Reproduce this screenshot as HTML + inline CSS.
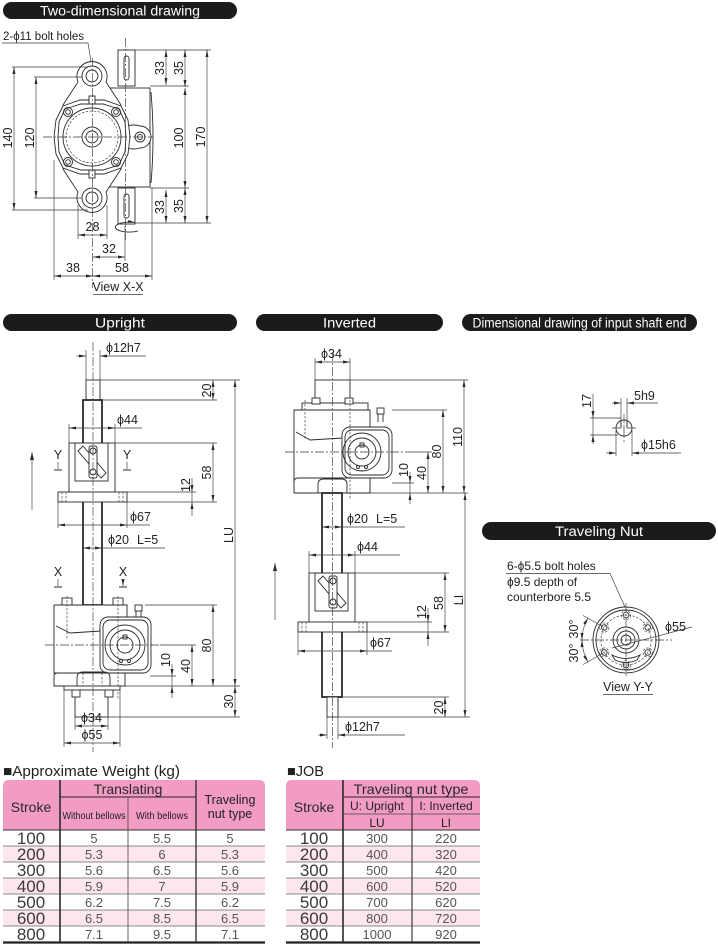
<!DOCTYPE html>
<html><head><meta charset="utf-8">
<style>
html,body{margin:0;padding:0;background:#fff;}
svg{display:block;}
text{font-family:"Liberation Sans",sans-serif;fill:#222;}
.t{font-size:12.5px;}
.o{fill:none;stroke:#2a2a2a;stroke-width:0.9;}
.ow{fill:#fff;stroke:#2a2a2a;stroke-width:0.9;}
.b{fill:#fff;stroke:#1e1e1e;stroke-width:1.7;}
.d{fill:none;stroke:#3a3a3a;stroke-width:0.65;}
.c{fill:none;stroke:#3a3a3a;stroke-width:0.65;stroke-dasharray:9 2 2 2;}
.h{fill:none;stroke:#3a3a3a;stroke-width:0.65;stroke-dasharray:2.5 1.5;}
.hd{fill:#fff;font-size:13.5px;}
.tv{font-size:13px;fill:#555;}
.ts{font-size:17px;fill:#3a3a3a;}
.th{font-size:14px;fill:#2a2a2a;}
</style></head>
<body>
<svg width="718" height="945" viewBox="0 0 718 945" xmlns="http://www.w3.org/2000/svg">
<defs>
<marker id="a" viewBox="0 0 7 3" refX="7" refY="1.5" markerWidth="7" markerHeight="3" orient="auto-start-reverse" markerUnits="userSpaceOnUse"><path d="M0,0L7,1.5L0,3z" fill="#2a2a2a"/></marker>
<marker id="A" viewBox="0 0 8 4" refX="8" refY="2" markerWidth="8" markerHeight="4" orient="auto-start-reverse" markerUnits="userSpaceOnUse"><path d="M0,0L8,2L0,4z" fill="#2a2a2a"/></marker>
</defs>

<!-- ================= TWO-DIMENSIONAL DRAWING ================= -->
<rect x="3" y="2" width="234" height="17" rx="8.5" fill="#1b1b1b"/>
<text class="hd" x="120" y="15.5" text-anchor="middle" textLength="160" lengthAdjust="spacingAndGlyphs">Two-dimensional drawing</text>

<text x="3" y="40" font-size="11.5">2-ϕ11 bolt holes</text>
<path class="d" d="M2,43H88L92,68"/>

<rect class="ow" x="105" y="88" width="45" height="99"/>
<path class="o" d="M151,92Q155,137 151,183"/>
<rect class="ow" x="118" y="50" width="17" height="36"/>
<rect class="o" x="124" y="56" width="5" height="24" rx="2.5"/>
<rect class="ow" x="118" y="188" width="17" height="36"/>
<rect class="o" x="124" y="194" width="5" height="24" rx="2.5"/>
<path class="ow" d="M126,126Q135,124 140,126A11,11 0 0 1 140,148Q135,150 126,148Z"/>
<circle class="o" cx="140" cy="137" r="5"/>
<circle class="o" cx="140" cy="137" r="2.5"/>
<path class="ow" d="M63,105L78,82A15,15 0 1 1 106,82L121,105L121,169L106,192A15,15 0 1 1 78,192L63,169Z"/>
<circle class="o" cx="92" cy="76" r="10"/>
<circle class="o" cx="92" cy="76" r="6"/>
<circle class="o" cx="92" cy="198" r="10"/>
<circle class="o" cx="92" cy="198" r="6"/>
<path class="ow" d="M63,106L80,100L104,100L121,106L128,120L130,137L128,154L121,168L104,174L80,174L63,168L56,154L54,137L56,120Z"/>
<path class="o" d="M65,109L81,104L103,104L119,109L125,122L126,137L125,152L119,165L103,170L81,170L65,165L59,152L58,137L59,122Z"/>
<circle class="o" cx="92" cy="137" r="29"/>
<circle class="h" cx="92" cy="137" r="26"/>
<g class="o">
<circle cx="68" cy="112" r="4.5"/><circle cx="116" cy="112" r="4.5"/><circle cx="68" cy="162" r="4.5"/><circle cx="116" cy="162" r="4.5"/>
<circle cx="68" cy="112" r="2.3"/><circle cx="116" cy="112" r="2.3"/><circle cx="68" cy="162" r="2.3"/><circle cx="116" cy="162" r="2.3"/>
<circle cx="92" cy="137" r="10"/><circle cx="92" cy="137" r="6"/>
</g>
<rect class="ow" x="89" y="96" width="6" height="8"/>
<rect class="ow" x="89" y="170" width="6" height="8"/>
<path class="c" d="M43,137H153"/>
<path class="c" d="M92.5,58V288"/>
<path class="c" d="M125.5,38V240"/>
<path class="o" d="M138,231A14,5 0 1 1 135,222.5" marker-end="url(#a)"/>

<path class="d" d="M135,50H211M150,86H189M150,188H189M135,223H211"/>
<g class="d" marker-start="url(#a)" marker-end="url(#a)">
<path d="M166,50V85"/><path d="M185,50V87"/><path d="M185,88V188"/><path d="M207,50V223"/><path d="M166,190V223"/><path d="M185,188V223"/>
<path d="M14,67V210"/><path d="M36,77V198"/>
<path d="M78,235H107"/><path d="M93,257H125"/><path d="M54,276H93"/><path d="M93,276H152"/>
</g>
<path class="d" d="M12,67H88M12,210H88M34,77H82M34,198H82M78,205V239M107,205V239M54,160V280M152,188V280M125,226V261"/>
<g class="t" text-anchor="middle">
<text transform="translate(164,68) rotate(-90)">33</text>
<text transform="translate(183,68) rotate(-90)">35</text>
<text transform="translate(183,138) rotate(-90)">100</text>
<text transform="translate(205,137) rotate(-90)">170</text>
<text transform="translate(164,207) rotate(-90)">33</text>
<text transform="translate(183,206) rotate(-90)">35</text>
<text transform="translate(12,138) rotate(-90)">140</text>
<text transform="translate(34,138) rotate(-90)">120</text>
<text x="92.5" y="231">28</text>
<text x="109" y="253">32</text>
<text x="73" y="272">38</text>
<text x="122" y="272">58</text>
<text x="118" y="291">View X-X</text>
</g>
<path class="d" d="M93,294.5H143"/>

<!-- ================= UPRIGHT ================= -->
<rect x="3" y="314" width="234" height="17" rx="8.5" fill="#1b1b1b"/>
<text class="hd" x="120" y="327.5" text-anchor="middle" textLength="50" lengthAdjust="spacingAndGlyphs">Upright</text>

<text class="t" x="106" y="352">ϕ12h7</text>
<path class="d" d="M76,356H86" marker-end="url(#a)"/>
<path class="d" d="M146,356H100" marker-end="url(#a)"/>
<path class="d" d="M86,350V380M100,350V380"/>
<rect class="ow" x="86" y="380" width="14" height="20"/>
<path class="d" d="M100,380H240M102,400H217"/>
<rect class="b" x="83" y="400" width="19" height="205"/>
<path class="d" d="M69,424V443M115,424V443"/>
<path class="d" d="M69,428H115" marker-start="url(#a)" marker-end="url(#a)"/>
<path class="d" d="M115,428H142"/>
<text class="t" x="117" y="424">ϕ44</text>

<g id="nut">
<rect class="ow" x="69" y="443" width="46" height="49"/>
<rect class="o" x="75" y="443" width="33" height="38"/>
<path class="o" d="M78,451L83,446L106,473L101,478Z"/>
<rect class="ow" x="89" y="446" width="8" height="32" rx="2"/>
<circle class="o" cx="93" cy="451" r="3"/>
<circle class="o" cx="93" cy="472" r="3"/>
<rect class="ow" x="58" y="492" width="69" height="10"/>
<path class="h" d="M62,492V502M66,492V502M119,492V502M123,492V502"/>
</g>

<path class="d" d="M115,443H217M127,502H217M127,492H196"/>
<path class="d" d="M213,443V502" marker-start="url(#a)" marker-end="url(#a)"/>
<text class="t" text-anchor="middle" transform="translate(211,472.5) rotate(-90)">58</text>
<path class="d" d="M192,478V492" marker-end="url(#a)"/>
<path class="d" d="M192,516V502" marker-end="url(#a)"/>
<path class="d" d="M192,492V502"/>
<text class="t" text-anchor="middle" transform="translate(190,485) rotate(-90)">12</text>
<path class="d" d="M58,502V528M127,502V528"/>
<path class="d" d="M58,525H127" marker-start="url(#a)" marker-end="url(#a)"/>
<path class="d" d="M127,525H150"/>
<text class="t" x="130" y="521">ϕ67</text>
<path class="d" d="M83,548H102" marker-start="url(#a)" marker-end="url(#a)"/>
<path class="d" d="M102,548H165"/>
<text class="t" x="108" y="544">ϕ20</text>
<text class="t" x="137" y="544">L=5</text>

<g class="t" text-anchor="middle">
<text x="58" y="459">Y</text><text x="127" y="459">Y</text>
<text x="58" y="576">X</text><text x="123" y="576">X</text>
</g>
<path class="d" d="M58,462V469M127,462V469M58,579V586M123,579V586" marker-end="url(#a)"/>
<path class="o" d="M54,470H62M123,470H131M54,587H62M119,587H127" stroke-width="1.3"/>
<path class="d" d="M32,510V452" marker-end="url(#A)" stroke-width="0.9"/>

<rect class="ow" x="62" y="598" width="10" height="7"/>
<rect class="ow" x="113" y="598" width="10" height="7"/>
<path class="ow" d="M54,605H127V673H54Z"/>
<path class="o" d="M56,626L70,633L101,631"/>
<rect class="ow" x="100" y="617" width="51" height="56" rx="8"/>
<rect class="o" x="103" y="620" width="45" height="50" rx="7"/>
<circle class="o" cx="125" cy="645" r="20"/>
<circle class="o" cx="125" cy="645" r="15"/>
<circle class="o" cx="125" cy="645" r="8"/>
<rect class="o" x="123" y="635" width="4" height="4"/>
<circle class="o" cx="121" cy="661" r="1.5"/><circle class="o" cx="129" cy="661" r="1.5"/>
<path class="ow" d="M54,686V676Q54,673 58,673H125V686Z"/>
<path class="o" d="M77,686V678Q77,672 83,672H104Q110,672 110,678V686"/>
<rect class="ow" x="135" y="605" width="7" height="6"/>
<path class="o" d="M136,611V617M141,611V617"/>
<path class="h" d="M67,596V640M118,596V700M83,673V686M102,673V686"/>
<rect class="ow" x="64" y="686" width="56" height="4"/>
<rect class="ow" x="75" y="690" width="33" height="27"/>
<rect class="ow" x="72" y="690" width="8" height="7"/>
<rect class="ow" x="105" y="690" width="8" height="7"/>
<path class="c" d="M45,645H162"/>
<path class="c" d="M93,342V752"/>

<path class="d" d="M145,605H217M160,645H196M150,676H176M125,686H240M108,717H240"/>
<path class="d" d="M213,605V686" marker-start="url(#a)" marker-end="url(#a)"/>
<path class="d" d="M192,645V686" marker-start="url(#a)" marker-end="url(#a)"/>
<path class="d" d="M172,664V676" marker-end="url(#a)"/>
<path class="d" d="M172,698V686" marker-end="url(#a)"/>
<path class="d" d="M172,676V686"/>
<path class="d" d="M235,686V717" marker-start="url(#a)" marker-end="url(#a)"/>
<path class="d" d="M235,380V686" marker-start="url(#a)" marker-end="url(#a)"/>
<path class="d" d="M213,380V400" marker-start="url(#a)" marker-end="url(#a)"/>
<g class="t" text-anchor="middle">
<text transform="translate(211,390.5) rotate(-90)">20</text>
<text transform="translate(211,645.5) rotate(-90)">80</text>
<text transform="translate(190,666) rotate(-90)">40</text>
<text transform="translate(170,660) rotate(-90)">10</text>
<text transform="translate(233,701.5) rotate(-90)">30</text>
<text transform="translate(233,535) rotate(-90)">LU</text>
<text x="91.5" y="722">ϕ34</text>
<text x="92" y="739">ϕ55</text>
</g>
<path class="d" d="M75,717V730M108,717V730M64,690V747M120,690V747"/>
<path class="d" d="M75,726H108" marker-start="url(#a)" marker-end="url(#a)"/>
<path class="d" d="M64,743H120" marker-start="url(#a)" marker-end="url(#a)"/>

<!-- ================= INVERTED ================= -->
<rect x="256" y="314" width="187" height="17" rx="8.5" fill="#1b1b1b"/>
<text class="hd" x="349.5" y="327.5" text-anchor="middle" textLength="53" lengthAdjust="spacingAndGlyphs">Inverted</text>

<text class="t" x="321" y="358">ϕ34</text>
<path class="d" d="M315,358V380M350,358V380"/>
<path class="d" d="M315,362H350" marker-start="url(#a)" marker-end="url(#a)"/>
<rect class="ow" x="315" y="380" width="35" height="23"/>
<path class="d" d="M350,380H468"/>
<rect class="ow" x="302" y="403" width="66" height="7"/>
<rect class="ow" x="312" y="398" width="8" height="6"/>
<rect class="ow" x="345" y="398" width="8" height="6"/>
<path class="ow" d="M294,410H370V493H294Z"/>
<path class="o" d="M296,432L310,440L343,438"/>
<rect class="ow" x="342" y="427" width="50" height="51" rx="8"/>
<rect class="o" x="345" y="430" width="44" height="45" rx="7"/>
<circle class="o" cx="362" cy="452" r="19"/>
<circle class="o" cx="362" cy="452" r="14"/>
<circle class="o" cx="362" cy="452" r="7"/>
<rect class="o" x="360" y="443" width="4" height="4"/>
<circle class="o" cx="358" cy="467" r="1.5"/><circle class="o" cx="366" cy="467" r="1.5"/>
<path class="ow" d="M294,493V482Q294,478 298,478H370V493Z"/>
<path class="o" d="M318,493V484Q318,479 324,479H341Q347,479 347,484V493"/>
<rect class="ow" x="377" y="408" width="7" height="6"/>
<path class="o" d="M378,414V422M383,414V422"/>
<path class="h" d="M305,400V440M350,400V500"/>
<path class="c" d="M285,452H405"/>

<path class="d" d="M392,410H447M405,452H432M392,483H414M370,493H468"/>
<path class="d" d="M443,410V493" marker-start="url(#a)" marker-end="url(#a)"/>
<path class="d" d="M464,380V493" marker-start="url(#a)" marker-end="url(#a)"/>
<path class="d" d="M428,452V493" marker-start="url(#a)" marker-end="url(#a)"/>
<path class="d" d="M410,472V483" marker-end="url(#a)"/>
<path class="d" d="M410,504V493" marker-end="url(#a)"/>
<path class="d" d="M410,483V493"/>

<rect class="b" x="322" y="493" width="20" height="204"/>
<path class="d" d="M322,527H342" marker-start="url(#a)" marker-end="url(#a)"/>
<path class="d" d="M342,527H405"/>
<text class="t" x="347" y="523">ϕ20</text>
<text class="t" x="376" y="523">L=5</text>
<path class="d" d="M309,551V573M355,551V573"/>
<path class="d" d="M309,555H355" marker-start="url(#a)" marker-end="url(#a)"/>
<path class="d" d="M355,555H400"/>
<text class="t" x="357" y="551">ϕ44</text>
<use href="#nut" transform="translate(240,130)"/>
<path class="d" d="M355,573H449M367,632H449M367,622H432"/>
<path class="d" d="M445,573V632" marker-start="url(#a)" marker-end="url(#a)"/>
<path class="d" d="M428,608V622" marker-end="url(#a)"/>
<path class="d" d="M428,646V632" marker-end="url(#a)"/>
<path class="d" d="M428,622V632"/>
<path class="d" d="M298,632V655M367,632V655"/>
<path class="d" d="M298,651H367" marker-start="url(#a)" marker-end="url(#a)"/>
<path class="d" d="M367,651H392"/>
<text class="t" x="370" y="647">ϕ67</text>
<path class="d" d="M275,620V563" marker-end="url(#A)" stroke-width="0.9"/>
<rect class="ow" x="327" y="697" width="11" height="20"/>
<path class="d" d="M342,697H449M338,717H470"/>
<path class="d" d="M445,697V717" marker-start="url(#a)" marker-end="url(#a)"/>
<path class="d" d="M465,493V717" marker-start="url(#a)" marker-end="url(#a)"/>
<path class="d" d="M327,717V739M338,717V739"/>
<path class="d" d="M318,735H327" marker-end="url(#a)"/>
<path class="d" d="M405,735H338" marker-end="url(#a)"/>
<text class="t" x="345" y="731">ϕ12h7</text>
<path class="c" d="M332.5,352V748"/>
<g class="t" text-anchor="middle">
<text transform="translate(441,451.5) rotate(-90)">80</text>
<text transform="translate(462,437) rotate(-90)">110</text>
<text transform="translate(426,473) rotate(-90)">40</text>
<text transform="translate(408,470) rotate(-90)">10</text>
<text transform="translate(443,603) rotate(-90)">58</text>
<text transform="translate(426,612) rotate(-90)">12</text>
<text transform="translate(443,707.5) rotate(-90)">20</text>
<text transform="translate(463,600) rotate(-90)">LI</text>
</g>

<!-- ================= INPUT SHAFT END ================= -->
<rect x="462" y="314" width="235" height="17" rx="8.5" fill="#1b1b1b"/>
<text class="hd" x="579.5" y="327.5" text-anchor="middle" textLength="214" lengthAdjust="spacingAndGlyphs">Dimensional drawing of input shaft end</text>
<circle class="o" cx="624" cy="428" r="8"/>
<path class="o" d="M621,421V428M627,421V428"/>
<path class="d" d="M621,398V421M627,398V421"/>
<path class="c" d="M612,428H637M624,414V442"/>
<path class="d" d="M593,394V418" marker-end="url(#a)"/>
<path class="d" d="M593,444V435" marker-end="url(#a)"/>
<path class="d" d="M593,418V435M590,418H621M590,435H618"/>
<text class="t" text-anchor="middle" transform="translate(591,401) rotate(-90)">17</text>
<path class="d" d="M612,403H621" marker-end="url(#a)"/>
<path class="d" d="M658,403H627" marker-end="url(#a)"/>
<text class="t" x="634" y="400">5h9</text>
<path class="d" d="M616,430V456M632,430V456"/>
<path class="d" d="M606,453H616" marker-end="url(#a)"/>
<path class="d" d="M681,453H632" marker-end="url(#a)"/>
<text class="t" x="641" y="449">ϕ15h6</text>

<!-- ================= TRAVELING NUT ================= -->
<rect x="482" y="522" width="234" height="18" rx="9" fill="#1b1b1b"/>
<text class="hd" x="599" y="536" text-anchor="middle" textLength="88" lengthAdjust="spacingAndGlyphs">Traveling Nut</text>
<text x="507" y="570" font-size="12">6-ϕ5.5 bolt holes</text>
<text x="507" y="586" font-size="12">ϕ9.5 depth of</text>
<text x="507" y="601" font-size="12">counterbore 5.5</text>
<path class="d" d="M506,573.5H610L625,607"/>
<circle class="ow" cx="626" cy="640" r="33"/>
<circle class="o" cx="626" cy="640" r="30"/>
<circle class="h" cx="626" cy="640" r="25"/>
<circle class="o" cx="626" cy="640" r="13"/>
<circle class="o" cx="626" cy="640" r="9"/>
<circle class="o" cx="626" cy="640" r="5"/>
<path class="o" d="M612,655Q626,662 640,655L637,660Q626,665 615,660Z"/>
<g class="o">
<circle cx="626" cy="615" r="2.8"/><circle cx="626" cy="665" r="2.8"/>
<circle cx="604.3" cy="627.5" r="2.8"/><circle cx="647.7" cy="627.5" r="2.8"/>
<circle cx="604.3" cy="652.5" r="2.8"/><circle cx="647.7" cy="652.5" r="2.8"/>
</g>
<g class="h">
<circle cx="626" cy="615" r="4.6"/><circle cx="626" cy="665" r="4.6"/>
<circle cx="604.3" cy="627.5" r="4.6"/><circle cx="647.7" cy="627.5" r="4.6"/>
<circle cx="604.3" cy="652.5" r="4.6"/><circle cx="647.7" cy="652.5" r="4.6"/>
</g>
<path class="c" d="M580,640H672M626,603V677"/>
<path class="d" d="M604,627.5L583,615.5M604,652.5L583,664.5"/>
<path class="d" d="M588,618A44,44 0 0 0 582,640" marker-start="url(#a)" marker-end="url(#a)"/>
<path class="d" d="M582,640A44,44 0 0 0 588,662" marker-start="url(#a)" marker-end="url(#a)"/>
<text class="t" text-anchor="middle" transform="translate(578,629) rotate(-90)" font-size="11.5">30°</text>
<text class="t" text-anchor="middle" transform="translate(578,653) rotate(-90)" font-size="11.5">30°</text>
<path class="d" d="M612,648L692,627"/>
<text class="t" x="665" y="631">ϕ55</text>
<text class="t" x="628" y="691" text-anchor="middle">View Y-Y</text>
<path class="d" d="M603,694.5H653"/>

<!-- ================= TABLE 1 ================= -->
<text x="3" y="776" font-size="14.5" fill="#222" textLength="177" lengthAdjust="spacingAndGlyphs">■Approximate Weight (kg)</text>
<path d="M3,830V786Q3,780 9,780H259Q265,780 265,786V830Z" fill="#f29bc3"/>
<rect x="3" y="846" width="262" height="16" fill="#fde6ef"/>
<rect x="3" y="878" width="262" height="16" fill="#fde6ef"/>
<rect x="3" y="910" width="262" height="16" fill="#fde6ef"/>
<path d="M3,846H265M3,862H265M3,878H265M3,894H265M3,910H265M3,926H265" stroke="#666" stroke-width="0.7"/>
<path d="M3,830H265" stroke="#333" stroke-width="1"/>
<path d="M3,942.5H265" stroke="#222" stroke-width="2.2"/>
<path d="M60,780V942" stroke="#2a2a2a" stroke-width="1.6"/>
<path d="M128,797V942" stroke="#555" stroke-width="0.9"/>
<path d="M196,780V942" stroke="#2a2a2a" stroke-width="1.3"/>
<path d="M60,797H196" stroke="#2a2a2a" stroke-width="1"/>
<g text-anchor="middle">
<text class="th" x="31" y="812">Stroke</text>
<text class="th" x="128" y="794">Translating</text>
<text x="94" y="819" font-size="10.5" fill="#2a2a2a" textLength="63" lengthAdjust="spacingAndGlyphs">Without bellows</text>
<text x="162" y="819" font-size="10.5" fill="#2a2a2a" textLength="52" lengthAdjust="spacingAndGlyphs">With bellows</text>
<text x="230" y="804" font-size="12.5" fill="#2a2a2a">Traveling</text>
<text x="230" y="818" font-size="12.5" fill="#2a2a2a">nut type</text>
</g>
<g text-anchor="middle">
<text class="ts" x="31" y="844">100</text><text class="tv" x="94" y="843">5</text><text class="tv" x="162" y="843">5.5</text><text class="tv" x="230" y="843">5</text>
<text class="ts" x="31" y="860">200</text><text class="tv" x="94" y="859">5.3</text><text class="tv" x="162" y="859">6</text><text class="tv" x="230" y="859">5.3</text>
<text class="ts" x="31" y="876">300</text><text class="tv" x="94" y="875">5.6</text><text class="tv" x="162" y="875">6.5</text><text class="tv" x="230" y="875">5.6</text>
<text class="ts" x="31" y="892">400</text><text class="tv" x="94" y="891">5.9</text><text class="tv" x="162" y="891">7</text><text class="tv" x="230" y="891">5.9</text>
<text class="ts" x="31" y="908">500</text><text class="tv" x="94" y="907">6.2</text><text class="tv" x="162" y="907">7.5</text><text class="tv" x="230" y="907">6.2</text>
<text class="ts" x="31" y="924">600</text><text class="tv" x="94" y="923">6.5</text><text class="tv" x="162" y="923">8.5</text><text class="tv" x="230" y="923">6.5</text>
<text class="ts" x="31" y="940">800</text><text class="tv" x="94" y="939">7.1</text><text class="tv" x="162" y="939">9.5</text><text class="tv" x="230" y="939">7.1</text>
</g>

<!-- ================= TABLE 2 ================= -->
<text x="287" y="776" font-size="14.5" fill="#222">■JOB</text>
<path d="M286,830V786Q286,780 292,780H474Q480,780 480,786V830Z" fill="#f29bc3"/>
<rect x="286" y="846" width="194" height="16" fill="#fde6ef"/>
<rect x="286" y="878" width="194" height="16" fill="#fde6ef"/>
<rect x="286" y="910" width="194" height="16" fill="#fde6ef"/>
<path d="M286,846H480M286,862H480M286,878H480M286,894H480M286,910H480M286,926H480" stroke="#666" stroke-width="0.7"/>
<path d="M286,830H480" stroke="#333" stroke-width="1"/>
<path d="M286,942.5H480" stroke="#222" stroke-width="2.2"/>
<path d="M343,780V942" stroke="#2a2a2a" stroke-width="1.6"/>
<path d="M412,797V942" stroke="#2a2a2a" stroke-width="1.1"/>
<path d="M343,797H480" stroke="#2a2a2a" stroke-width="1"/>
<path d="M343,814H480" stroke="#444" stroke-width="0.7"/>
<g text-anchor="middle">
<text class="th" x="314" y="812">Stroke</text>
<text class="th" x="411" y="794" textLength="115" lengthAdjust="spacingAndGlyphs">Traveling nut type</text>
<text x="377" y="810" font-size="12" fill="#2a2a2a">U: Upright</text>
<text x="446" y="810" font-size="12" fill="#2a2a2a">I: Inverted</text>
<text x="377" y="827" font-size="12" fill="#444">LU</text>
<text x="446" y="827" font-size="12" fill="#444">LI</text>
</g>
<g text-anchor="middle">
<text class="ts" x="314" y="844">100</text><text class="tv" x="377" y="843">300</text><text class="tv" x="446" y="843">220</text>
<text class="ts" x="314" y="860">200</text><text class="tv" x="377" y="859">400</text><text class="tv" x="446" y="859">320</text>
<text class="ts" x="314" y="876">300</text><text class="tv" x="377" y="875">500</text><text class="tv" x="446" y="875">420</text>
<text class="ts" x="314" y="892">400</text><text class="tv" x="377" y="891">600</text><text class="tv" x="446" y="891">520</text>
<text class="ts" x="314" y="908">500</text><text class="tv" x="377" y="907">700</text><text class="tv" x="446" y="907">620</text>
<text class="ts" x="314" y="924">600</text><text class="tv" x="377" y="923">800</text><text class="tv" x="446" y="923">720</text>
<text class="ts" x="314" y="940">800</text><text class="tv" x="377" y="939">1000</text><text class="tv" x="446" y="939">920</text>
</g>
</svg>
</body></html>
